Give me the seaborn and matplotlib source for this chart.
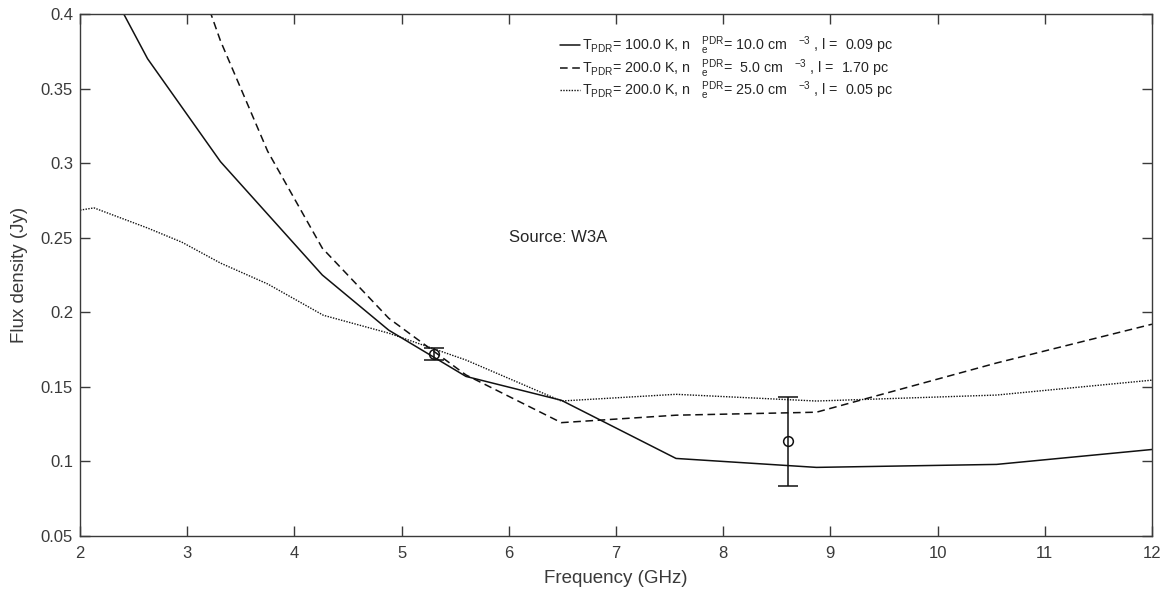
import numpy as np
import matplotlib
matplotlib.use('Agg')
import matplotlib.pyplot as plt
import seaborn as sns
from matplotlib.ticker import FormatStrFormatter

# model curves (frequency in GHz, flux density in Jy)
freq_t100 = [2.0, 2.63, 3.31, 4.26, 4.88, 5.6, 6.49, 7.56, 8.87, 10.55, 12.0]
flux_t100 = [0.455, 0.370, 0.301, 0.225, 0.188, 0.157, 0.141, 0.102, 0.096, 0.098, 0.108]

freq_t200_n5 = [2.63, 3.31, 3.75, 4.26, 4.88, 5.6, 6.49, 7.56, 8.87, 10.55, 12.0]
flux_t200_n5 = [0.520, 0.382, 0.308, 0.243, 0.196, 0.158, 0.126, 0.131, 0.133, 0.166, 0.192]

freq_t200_n25 = [2.0, 2.13, 2.63, 2.95, 3.31, 3.75, 4.27, 4.88, 5.6, 6.49, 7.56, 8.87, 10.55, 12.0]
flux_t200_n25 = [0.2685, 0.270, 0.2565, 0.247, 0.233, 0.219, 0.198, 0.186, 0.168, 0.1405, 0.145, 0.1405, 0.1445, 0.1545]

# observed points
obs_freq = [5.3, 8.6]
obs_flux = [0.172, 0.1135]
obs_err = [0.004, 0.0297]

labels = [
    r'T$_{PDR}$= 100.0 K, n   $^{PDR}_{e}$= 10.0 cm   $^{-3}$ , l =  0.09 pc',
    r'T$_{PDR}$= 200.0 K, n   $^{PDR}_{e}$=  5.0 cm   $^{-3}$ , l =  1.70 pc',
    r'T$_{PDR}$= 200.0 K, n   $^{PDR}_{e}$= 25.0 cm   $^{-3}$ , l =  0.05 pc',
]

sns.set_style('ticks')
plt.rcParams['font.family'] = ['Liberation Sans', 'DejaVu Sans']
plt.rcParams['mathtext.default'] = 'regular'

axcol = '#3a3a3a'
txtcol = '#262626'
fig = plt.figure(figsize=(11.67, 5.89), dpi=100)
ax = fig.add_axes([0.0686, 0.09, 0.9185, 0.8862])

sns.lineplot(x=freq_t100, y=flux_t100, color='#111111', linewidth=1.1,
             label=labels[0], ax=ax, sort=False)
sns.lineplot(x=freq_t200_n5, y=flux_t200_n5, color='#111111', linewidth=1.1,
             linestyle=(0, (5, 3)), label=labels[1], ax=ax, sort=False)
sns.lineplot(x=freq_t200_n25, y=flux_t200_n25, color='#111111', linewidth=1.0,
             linestyle=(0, (1, 1)), label=labels[2], ax=ax, sort=False)

ax.errorbar(obs_freq, obs_flux, yerr=obs_err, fmt='o', mfc='none', mec='#111111',
            ms=7, mew=1.1, ecolor='#111111', elinewidth=1.1, capsize=7, capthick=1.1)

ax.text(6.0, 0.25, 'Source: W3A', fontsize=12, color=txtcol, va='center', ha='left')

ax.set_xlim(2, 12)
ax.set_ylim(0.05, 0.4)
ax.set_xticks(np.arange(2, 13, 1))
ax.set_yticks(np.arange(0.05, 0.401, 0.05))
ax.yaxis.set_major_formatter(FormatStrFormatter('%g'))
ax.tick_params(direction='in', length=7, width=1, colors=axcol, labelsize=12,
               top=True, right=True, labelcolor=axcol)
ax.tick_params(axis='x', pad=7)
ax.tick_params(axis='y', pad=5)
for sp in ax.spines.values():
    sp.set_color(axcol)
    sp.set_linewidth(1.0)
    sp.set_visible(True)

ax.set_xlabel('Frequency (GHz)', fontsize=13.5, color=axcol)
ax.set_ylabel('Flux density (Jy)', fontsize=13.5, color=axcol)
ax.xaxis.set_label_coords(0.5, -0.065)
ax.yaxis.set_label_coords(-0.049, 0.5)

ax.legend(loc='upper left', bbox_to_anchor=(0.436, 0.985), frameon=False,
          fontsize=10.3, handlelength=1.4, handletextpad=0.15, labelspacing=-0.02,
          labelcolor=txtcol)

fig.savefig('out.png', dpi=100)
